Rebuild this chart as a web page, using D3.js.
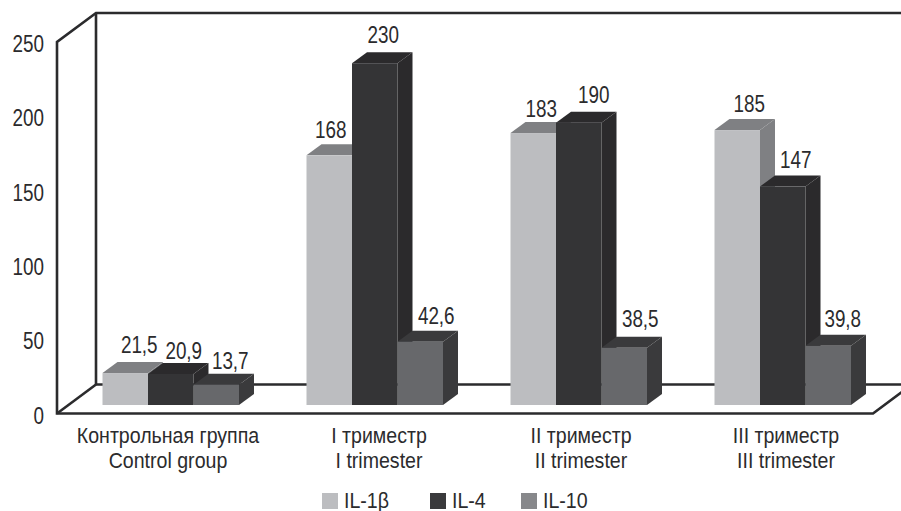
<!DOCTYPE html>
<html>
<head>
<meta charset="utf-8">
<script src="https://cdnjs.cloudflare.com/ajax/libs/d3/7.8.5/d3.min.js"></script>
<style>
  html, body { margin: 0; padding: 0; background: #fff; }
  svg { display: block; }
  text { font-family: "Liberation Sans", Arial, sans-serif; fill: #2b2b2d; }
</style>
</head>
<body>
<div id="chart"></div>
<script>
// Chart values
const groupsRu = ["Контрольная группа", "I триместр", "II триместр", "III триместр"];
const groupsEn = ["Control group", "I trimester", "II trimester", "III trimester"];
const seriesNames = ["IL-1β", "IL-4", "IL-10"];
const il1b = [21.5, 168, 183, 185];
const il4 = [20.9, 230, 190, 147];
const il10 = [13.7, 42.6, 38.5, 39.8];
const tickValues = [0, 50, 100, 150, 200, 250];

const frontColors = ["#bcbdc0", "#343436", "#67686b"];
const shadeColors = ["#7f8083", "#2b2a2c", "#3a3a3c"];
const legendColors = ["#bcbdc0", "#3a3a3c", "#87888b"];
const ink = "#2b2b2d";

// Hand-placed value labels: offsets from the centre of each bar's front face and
// from the default height above its top.
const labelDx = [[14, 1.5, 8, 12], [13, 8.5, 15, 13], [14, 16, 16, 14.5]];
const labelDy = [[-3, 0, 0.5, -1], [2, -3, -3, -1.5], [1, -0.5, -4, -2]];
// Horizontal nudge of each two-line category caption from the band centre.
const captionDx = [9, 16, 14, 15];

const width = 901, height = 511;
const svg = d3.select("#chart").append("svg").attr("width", width).attr("height", height);

// Text is set in a condensed cut by squeezing the regular face horizontally.
function narrowText(parent, x, y, str, size, squeeze, anchor) {
  return parent.append("text")
    .attr("transform", `translate(${x},${y}) scale(${squeeze},1)`)
    .attr("text-anchor", anchor)
    .attr("font-size", size)
    .text(str);
}

// Oblique projection: the wall and floor recede up and to the right.
const floorFront = 413.5, wallDx = 39, wallDy = 29;
const barDx = 15, barDy = 11;

const y = d3.scaleLinear().domain([0, 250]).range([floorFront, 42]);
const x0 = d3.scaleBand().domain(groupsRu).range([57, 873]);
const x1 = d3.scaleBand().domain(seriesNames).range([45.5, 182]);
const values = [il1b, il4, il10];

// Wall and floor outline
const outline = svg.append("g").attr("fill", "none").attr("stroke", ink)
  .attr("stroke-width", 2.6).attr("stroke-linejoin", "miter");
const left = x0.range()[0], right = x0.range()[1];
outline.append("path").attr("d", d3.line()([
  [width + 20, y(250) - wallDy],
  [left + wallDx, y(250) - wallDy],
  [left, y(250)],
  [left, y(0)],
  [right, y(0)],
  [right + wallDx, y(0) - wallDy]
]));
outline.append("path").attr("d", d3.line()([
  [left + wallDx, y(250) - wallDy],
  [left + wallDx, y(0) - wallDy],
  [width + 20, y(0) - wallDy]
]));
outline.append("path").attr("d", d3.line()([
  [left + wallDx, y(0) - wallDy],
  [left, y(0)]
]));

// Bars stand on the middle of the floor, so their base is lifted above the front edge.
const baseShift = 8.5;
const plot = svg.append("g");
groupsRu.forEach((g, gi) => {
  seriesNames.forEach((s, si) => {
    const v = values[si][gi];
    const xa = x0(g) + x1(s), xb = xa + x1.bandwidth();
    const yb = y(0) - baseShift, yt = y(v) - baseShift;
    const bar = plot.append("g");
    // right side
    bar.append("path").attr("fill", shadeColors[si]).attr("d", d3.line()([
      [xb, yb], [xb + barDx, yb - barDy], [xb + barDx, yt - barDy], [xb, yt]
    ]) + "Z");
    // top
    bar.append("path").attr("fill", shadeColors[si]).attr("d", d3.line()([
      [xa, yt], [xa + barDx, yt - barDy], [xb + barDx, yt - barDy], [xb, yt]
    ]) + "Z");
    // front
    bar.append("rect").attr("x", xa).attr("y", yt)
      .attr("width", x1.bandwidth()).attr("height", yb - yt).attr("fill", frontColors[si]);
  });
});

// Value labels above each bar, written with a decimal comma
const fmt = v => String(v).replace(".", ",");
const labels = svg.append("g");
groupsRu.forEach((g, gi) => {
  seriesNames.forEach((s, si) => {
    const v = values[si][gi];
    narrowText(labels,
      x0(g) + x1(s) + x1.bandwidth() / 2 + labelDx[si][gi],
      y(v) - baseShift - barDy - 6 + labelDy[si][gi],
      fmt(v), 23, 0.82, "middle");
  });
});

// Value axis labels
const ticks = svg.append("g");
tickValues.forEach(t => narrowText(ticks, 44, y(t) + 10, t, 23, 0.82, "end"));

// Category captions in two languages
const captions = svg.append("g");
groupsRu.forEach((g, i) => {
  const cx = x0(g) + x0.bandwidth() / 2 + captionDx[i];
  narrowText(captions, cx, 443, g, 22, 0.89, "middle");
  narrowText(captions, cx, 468, groupsEn[i], 22, 0.89, "middle");
});

// Legend
const legendX = [322, 430, 521];
const legend = svg.append("g");
seriesNames.forEach((s, i) => {
  legend.append("rect").attr("x", legendX[i]).attr("y", 493).attr("width", 16).attr("height", 16)
    .attr("fill", legendColors[i]);
  narrowText(legend, legendX[i] + 22, 508, s, 22, 0.89, "start");
});
</script>
</body>
</html>
